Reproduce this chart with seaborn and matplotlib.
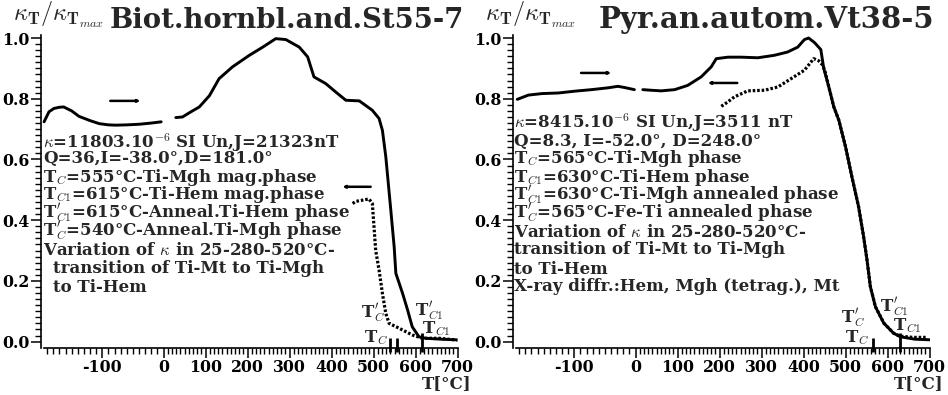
import numpy as np
import pandas as pd
import matplotlib
matplotlib.use("Agg")
import matplotlib.pyplot as plt
import seaborn as sns
from matplotlib.ticker import FixedLocator, FuncFormatter

# ---------------- data: left panel (Biot.hornbl.and.St55-7) ----------------
L_low_T = [-195, -187, -179, -170, -163, -150, -138, -120, -105, -90, -78, -60, -40, -20, -4]
L_low_k = [0.724, 0.757, 0.768, 0.772, 0.773, 0.76, 0.742, 0.728, 0.718, 0.714, 0.713, 0.714, 0.716, 0.72, 0.724]
L_high_T = [29, 45, 65, 85, 109, 132, 164, 204, 236, 267, 291, 323, 343, 358, 386, 410, 434, 466,
            497, 513, 521, 529, 541, 549, 553, 569, 581, 592, 608, 624, 660, 696]
L_high_k = [0.738, 0.74, 0.757, 0.773, 0.81, 0.866, 0.905, 0.943, 0.97, 0.998, 0.995, 0.97, 0.938,
            0.872, 0.85, 0.822, 0.795, 0.793, 0.762, 0.735, 0.696, 0.61, 0.433, 0.312, 0.225, 0.159,
            0.104, 0.049, 0.016, 0.011, 0.008, 0.006]
L_dot_T = [450, 458, 470, 489, 497, 501, 505, 513, 521, 529, 537, 561, 592, 616, 656, 700]
L_dot_k = [0.455, 0.462, 0.465, 0.47, 0.455, 0.378, 0.30, 0.236, 0.159, 0.093, 0.06, 0.044, 0.022,
           0.011, 0.011, 0.005]
L_arrows = [(-87, -38, 0.793), (493, 426, 0.51)]          # (from T, to T, k)
L_bars = [540, 555, 615]
L_title = "Biot.hornbl.and.St55-7"
L_text = [
    r"$\kappa$=11803.10$^{-6}$ SI Un,J=21323nT",
    r"Q=36,I=-38.0°,D=181.0°",
    r"T$_{C}$=555°C-Ti-Mgh mag.phase",
    r"T$_{C1}$=615°C-Ti-Hem mag.phase",
    r"T$^{\prime}_{C1}$=615°C-Anneal.Ti-Hem phase",
    r"T$^{\prime}_{C}$=540°C-Anneal.Ti-Mgh phase",
    r"Variation of $\kappa$ in 25-280-520°C-",
    r"  transition of Ti-Mt to Ti-Mgh",
    r"  to Ti-Hem",
]

# ---------------- data: right panel (Pyr.an.autom.Vt38-5) ----------------
R_low_T = [-193, -175, -153, -126, -99, -72, -45, -29, -18, -2]
R_low_k = [0.798, 0.812, 0.817, 0.819, 0.825, 0.83, 0.836, 0.841, 0.837, 0.83]
R_high_T = [17, 37, 61, 93, 124, 156, 180, 192, 220, 251, 291, 330, 362, 386, 402, 412, 426, 441,
            448, 460, 472, 484, 500, 515, 531, 543, 551, 559, 571, 591, 614, 630, 665, 701]
R_high_k = [0.83, 0.828, 0.826, 0.83, 0.844, 0.872, 0.905, 0.932, 0.937, 0.937, 0.935, 0.943, 0.954,
            0.97, 0.995, 1.0, 0.985, 0.962, 0.9, 0.839, 0.773, 0.729, 0.641, 0.543, 0.444, 0.345,
            0.269, 0.181, 0.115, 0.061, 0.028, 0.016, 0.008, 0.006]
R_dot_T = [204, 220, 235, 267, 307, 339, 370, 402, 424, 436, 446, 452, 460, 472, 484, 500, 515, 531,
           543, 551, 559, 571, 591, 614, 630, 660, 695]
R_dot_k = [0.775, 0.79, 0.806, 0.826, 0.828, 0.839, 0.866, 0.894, 0.932, 0.925, 0.91, 0.885, 0.839,
           0.773, 0.729, 0.641, 0.543, 0.444, 0.345, 0.269, 0.181, 0.115, 0.061, 0.028, 0.018,
           0.014, 0.014]
R_arrows = [(-89, -40, 0.885), (242, 172, 0.852)]
R_bars = [565, 630]
R_title = "Pyr.an.autom.Vt38-5"
R_text = [
    r"$\kappa$=8415.10$^{-6}$ SI Un,J=3511 nT",
    r"Q=8.3, I=-52.0°, D=248.0°",
    r"T$_{C}$=565°C-Ti-Mgh phase",
    r"T$_{C1}$=630°C-Ti-Hem phase",
    r"T$^{\prime}_{C1}$=630°C-Ti-Mgh annealed phase",
    r"T$^{\prime}_{C}$=565°C-Fe-Ti annealed phase",
    r"Variation of $\kappa$ in 25-280-520°C-",
    r"transition of Ti-Mt to Ti-Mgh",
    r"to Ti-Hem",
    r"X-ray diffr.:Hem, Mgh (tetrag.), Mt",
]

x_major = [-100, 0, 100, 200, 300, 400, 500, 600, 700]
y_major = [0.0, 0.2, 0.4, 0.6, 0.8, 1.0]

# ---------------- style ----------------
sns.set_theme(style="ticks")
plt.rcParams["font.family"] = ["DejaVu Serif"]
plt.rcParams["font.weight"] = "bold"
plt.rcParams["mathtext.fontset"] = "cm"
plt.rcParams["axes.unicode_minus"] = False

W, H = 948, 395
fig = plt.figure(figsize=(W / 100, H / 100), dpi=100)

NEG = 1.46
BODY = 12


def fwd(x):
    x = np.asarray(x, float)
    return np.where(x < 0, x * NEG, x)


def inv(x):
    x = np.asarray(x, float)
    return np.where(x < 0, x / NEG, x)


def fx(px):
    return px / W


def fy(py):
    return 1 - py / H


def panel(left_px, low_T, low_k, high_T, high_k, dot_T, dot_k, arrows, bars, title, title_x,
          title_size, texts, text_x, text_base, indent_x, label_pos):
    ax = fig.add_axes([fx(left_px), 1 - 348 / H, 417 / W, (348 - 35) / H])
    sns.lineplot(x=low_T, y=low_k, ax=ax, color="black", lw=2.1, sort=False, estimator=None)
    sns.lineplot(x=high_T, y=high_k, ax=ax, color="black", lw=2.1, sort=False, estimator=None)
    sns.lineplot(x=dot_T, y=dot_k, ax=ax, color="black", lw=2.3, sort=False, estimator=None,
                 linestyle=(0, (0.8, 0.6)))
    ax.set_xscale("function", functions=(fwd, inv))
    ax.set_xlim(-200, 701)
    ax.set_ylim(-0.021, 1.01)
    for t0, t1, k in arrows:
        ax.annotate("", xy=(t1, k), xytext=(t0, k),
                    arrowprops=dict(arrowstyle="-|>", color="black", lw=1.8,
                                    mutation_scale=3, shrinkA=0, shrinkB=0))
    for i, b in enumerate(bars):
        hi = 0.03 if i == len(bars) - 1 else 0.012
        ax.vlines(b, -0.035, hi, color="black", lw=2.0, clip_on=False)
    ax.spines[["top", "right"]].set_visible(False)
    ax.spines["bottom"].set_bounds(-195, 700)
    for s in ["left", "bottom"]:
        ax.spines[s].set_linewidth(1.2)
        ax.spines[s].set_color("black")
    ax.xaxis.set_major_locator(FixedLocator(x_major))
    ax.xaxis.set_minor_locator(FixedLocator(list(range(-190, 701, 10))))
    ax.yaxis.set_major_locator(FixedLocator(y_major))
    ax.yaxis.set_minor_locator(FixedLocator([i * 0.02 for i in range(0, 51)]))
    ax.xaxis.set_major_formatter(FuncFormatter(lambda v, p: f"{int(round(v))}"))
    ax.yaxis.set_major_formatter(FuncFormatter(lambda v, p: f"{v:.1f}"))
    ax.tick_params(which="major", length=7, width=1.1, direction="out", labelsize=11.3,
                   pad=1, color="black", labelcolor="black")
    ax.tick_params(which="minor", length=4, width=1.0, direction="out", color="black")
    ax.set_xlabel("")
    ax.set_ylabel("")

    # labels near the Curie points
    for (s, T, k) in label_pos:
        ax.text(T, k, s, ha="center", va="center", fontsize=BODY)

    # title and y label
    fig.text(fx(title_x), fy(28), title, fontsize=title_size, ha="left", va="baseline")
    fig.text(fx(left_px - 28), fy(21),
             r"$\kappa_{\mathbf{T}}/\kappa_{\mathbf{T}_{max}}$", fontsize=17.5,
             ha="left", va="baseline")
    # text block
    for s, yb in zip(texts, text_base):
        xx = text_x
        if s.startswith("  "):
            xx = indent_x
            s = s.strip()
        fig.text(fx(xx), fy(yb), s, fontsize=BODY, ha="left", va="baseline")
    fig.text(fx(left_px + 431), fy(388), "T[°C]", fontsize=BODY, ha="right",
             va="baseline")
    return ax


panel(41, L_low_T, L_low_k, L_high_T, L_high_k, L_dot_T, L_dot_k, L_arrows, L_bars,
      L_title, 110, 19.8, L_text, 43, [147.7, 163.3, 181.7, 199, 218.3, 236, 255, 272.7, 291.7], 53,
      [(r"T$^{\prime}_{C}$", 498, 0.093), (r"T$_{C}$", 506, 0.012),
       (r"T$^{\prime}_{C1}$", 632, 0.098), (r"T$_{C1}$", 648, 0.042)])

panel(513, R_low_T, R_low_k, R_high_T, R_high_k, R_dot_T, R_dot_k, R_arrows, R_bars,
      R_title, 599, 21.0, R_text, 514,
      [128.3, 145.7, 163.3, 181.7, 200, 218.3, 236.7, 254, 274, 290.7], 514,
      [(r"T$^{\prime}_{C}$", 518, 0.078), (r"T$_{C}$", 528, 0.012),
       (r"T$^{\prime}_{C1}$", 616, 0.114), (r"T$_{C1}$", 647, 0.052)])

fig.savefig("out.png", dpi=100)
